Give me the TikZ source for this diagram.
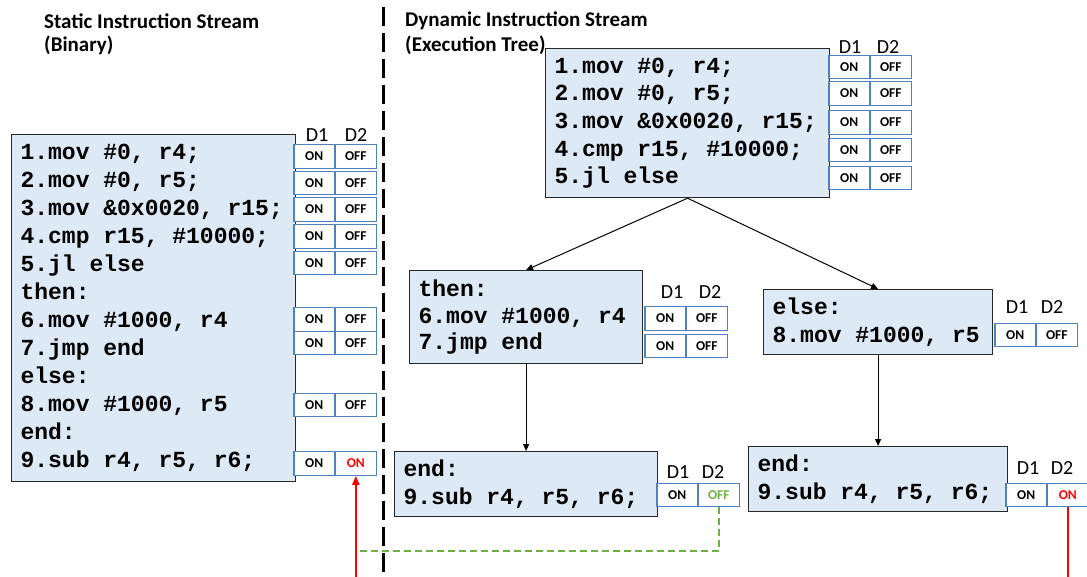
\documentclass[tikz,border=0pt]{standalone}
\usepackage{fontspec}
\setmainfont{Carlito}
\newfontfamily\codefont{Liberation Mono}
\usetikzlibrary{arrows.meta}
\definecolor{codefill}{RGB}{222,233,246}
\definecolor{swblue}{RGB}{79,129,189}
\definecolor{offgreen}{RGB}{112,173,71}
% one character-wide blank inside code lines
\newcommand\gap{\hspace*{0.6em}}
\newcommand\codesize[2]{\codefont\bfseries\fontsize{#1}{#2}\selectfont}
\tikzset{
  codebox/.style={draw=black!85, line width=1.2pt, fill=codefill, inner xsep=9pt, inner ysep=0pt,
    align=left, anchor=north west, font=\codesize{23}{27.6}},
  cell/.style={draw=swblue, line width=1.2pt, fill=white, minimum width=40.5pt, minimum height=23.5pt,
    inner sep=0pt, font=\bfseries\fontsize{13.5}{14}\selectfont},
  dlabel/.style={font=\fontsize{20}{22}\selectfont, inner sep=0pt},
  heading/.style={font=\bfseries\fontsize{21}{24}\selectfont, anchor=west, inner sep=0pt},
  flow/.style={draw=black, line width=1pt, -{Triangle[length=7pt,width=6pt]}},
}
% a pair of D1/D2 cells: name, divider x, centre y, D2 text
\newcommand\swpair[4]{%
  \node[cell,anchor=east] (#1a) at (#2,#3) {ON};
  \node[cell,anchor=west] (#1b) at (#2,#3) {#4};}
\begin{document}
\begin{tikzpicture}[x=1pt,y=-1pt]
\useasboundingbox (0,0) rectangle (1087,576);

% headings
\node[heading] (h1) at (44,21) {Static Instruction Stream};
\node[heading] (h2) at (44,45) {(Binary)};
\node[heading] (h3) at (405,21) {Dynamic Instruction Stream};
\node[heading] (h4) at (405,45) {(Execution Tree)};

% divider
\coordinate (dtop) at (383,7);
\coordinate (dbot) at (383,578);
\draw[line width=3pt, dash pattern=on 19pt off 7pt] (dtop) -- (dbot);

% static binary
\node[codebox, minimum width=284pt, minimum height=347pt, text width=266pt,
      font=\codesize{23}{28}] (bin) at (11,134)
  {1.mov\gap\#0,\gap r4;\\2.mov\gap\#0,\gap r5;\\3.mov\gap\&0x0020,\gap r15;\\4.cmp\gap r15,\gap\#10000;\\5.jl\gap else\\then:\\6.mov\gap\#1000,\gap r4\\7.jmp\gap end\\else:\\8.mov\gap\#1000,\gap r5\\end:\\9.sub\gap r4,\gap r5,\gap r6;};

\node[dlabel] (ld1) at (317,135) {D1};
\node[dlabel] (ld2) at (356,135) {D2};
\swpair{l1}{335}{156.5}{OFF}
\swpair{l2}{335}{183}{OFF}
\swpair{l3}{335}{209.5}{OFF}
\swpair{l4}{335}{236.5}{OFF}
\swpair{l5}{335}{263}{OFF}
\swpair{l6}{335}{319.5}{OFF}
\swpair{l7}{335}{343}{OFF}
\swpair{l8}{335}{405}{OFF}
\swpair{l9}{335}{463.5}{\color{red}ON}

% execution tree
\node[codebox, minimum width=284pt, minimum height=149pt, text width=266pt] (top) at (545,48)
  {1.mov\gap\#0,\gap r4;\\2.mov\gap\#0,\gap r5;\\3.mov\gap\&0x0020,\gap r15;\\4.cmp\gap r15,\gap\#10000;\\5.jl\gap else};
\node[dlabel] (td1) at (850,47) {D1};
\node[dlabel] (td2) at (888,47) {D2};
\swpair{t1}{870}{67}{OFF}
\swpair{t2}{870}{93.5}{OFF}
\swpair{t3}{870}{122.5}{OFF}
\swpair{t4}{870}{150}{OFF}
\swpair{t5}{870}{178}{OFF}

\node[codebox, minimum width=233pt, minimum height=93pt, text width=215pt,
      font=\codesize{23}{26.5}] (then) at (409,270)
  {then:\\6.mov\gap\#1000,\gap r4\\7.jmp\gap end};
\node[dlabel] (nd1) at (672,292) {D1};
\node[dlabel] (nd2) at (710,292) {D2};
\swpair{n1}{686}{318.5}{OFF}
\swpair{n2}{686}{346}{OFF}

\node[codebox, minimum width=229pt, minimum height=65pt, text width=211pt] (else) at (763,289)
  {else:\\8.mov\gap\#1000,\gap r5};
\node[dlabel] (ed1) at (1017,307) {D1};
\node[dlabel] (ed2) at (1052,307) {D2};
\swpair{s1}{1036}{335}{OFF}

\node[codebox, minimum width=263pt, minimum height=65pt, text width=245pt] (endA) at (394,451)
  {end:\\9.sub\gap r4,\gap r5,\gap r6;};
\node[dlabel] (ad1) at (678,472) {D1};
\node[dlabel] (ad2) at (713,472) {D2};
\swpair{a1}{698}{495}{\color{offgreen}OFF}

\node[codebox, minimum width=259pt, minimum height=65pt, text width=241pt] (endB) at (748,446)
  {end:\\9.sub\gap r4,\gap r5,\gap r6;};
\node[dlabel] (bd1) at (1028,468) {D1};
\node[dlabel] (bd2) at (1062,468) {D2};
\swpair{b1}{1047}{495}{\color{red}ON}

% tree edges
\draw[flow] (top.south) -- (then.north);
\draw[flow] (top.south) -- (else.north);
\draw[flow] (then.south) -- (endA.north);
\draw[flow] (else.south) -- (endB.north);

% links between the D2 cells
\coordinate (join) at (357,551);
\coordinate (low) at (0,580);
\draw[offgreen, line width=2pt, dash pattern=on 7pt off 4pt] (a1b.south) |- (join);
\draw[red, line width=2pt, -{Triangle[length=9pt,width=7pt]}] (l9b.south |- low) -- (l9b.south);
\draw[red, line width=2pt] (b1b.south) -- (b1b.south |- low);
\end{tikzpicture}
\end{document}
